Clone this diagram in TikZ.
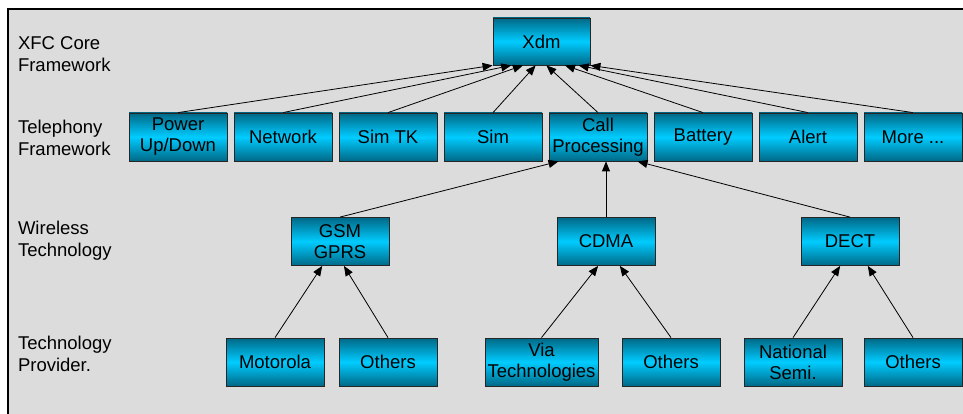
\documentclass[tikz,border=0pt]{standalone}
\usepackage{fontspec}
\setmainfont{Liberation Sans}
\usetikzlibrary{arrows.meta,calc}
\definecolor{boxdark}{RGB}{0,104,134}
\definecolor{boxlight}{RGB}{0,204,255}
\definecolor{panelgray}{RGB}{220,220,220}
\begin{document}
\begin{tikzpicture}[x=1pt,y=1pt,
           box_style/.style={rectangle,draw=black!85,line width=0.8pt,inner sep=0pt,
             minimum width=98pt,minimum height=48pt,align=center,
             top color=boxdark,bottom color=boxdark,middle color=boxlight,
             font=\fontsize{18.5}{21}\selectfont},
           wide_box_style/.style={box_style,minimum width=113pt},
           level_style/.style={anchor=west,align=left,font=\fontsize{18.5}{22}\selectfont},
           edge_style/.style={draw=black,line width=0.8pt,-{Triangle[length=10pt,width=8pt]}}]
            \useasboundingbox (0,0) rectangle (963,-414);
            \draw[fill=panelgray,draw=black,line width=1.3pt] (8,-9) rectangle (975,-430);
            % levels
            \node[level_style] (l1) at (14.5, -54)  {XFC Core\\Framework};
            \node[level_style] (l2) at (14.5, -138) {Telephony\\Framework};
            \node[level_style] (l3) at (14.5, -241) {Wireless\\Technology};
            \node[level_style] (l4) at (14.5, -354) {Technology\\Provider.};
            % core
            \node[box_style,minimum width=97pt,minimum height=47pt] (xdm) at (541.5, -41.5) {Xdm};
            % telephony
            \node[box_style] (t1) at (178, -137) {Power\\Up/Down};
            \node[box_style] (t2) at (283, -137) {Network};
            \node[box_style] (t3) at (388, -137) {Sim TK};
            \node[box_style] (t4) at (493, -137) {Sim};
            \node[box_style] (t5) at (598, -137) {Call\\Processing};
            \node[box_style] (t6) at (703, -137) {Battery};
            \node[box_style] (t7) at (808, -137) {Alert};
            \node[box_style] (t8) at (913, -137) {More ...};
            % wireless
            \node[box_style] (w1) at (340, -241.5) {GSM\\GPRS};
            \node[box_style] (w2) at (606, -241.5) {CDMA};
            \node[box_style] (w3) at (850, -241.5) {DECT};
            % providers
            \node[box_style] (p1) at (275, -362)   {Motorola};
            \node[box_style] (p2) at (388, -362)   {Others};
            \node[wide_box_style] (p3) at (541.5, -362) {Via\\Technologies};
            \node[box_style] (p4) at (671, -362)   {Others};
            \node[box_style] (p5) at (793, -362)   {National\\Semi.};
            \node[box_style] (p6) at (913, -362)   {Others};
            % telephony to core
            \draw[edge_style]  (t1.north) -- ($(xdm.south west)!0.00!(xdm.south east)$);
            \draw[edge_style]  (t2.north) -- ($(xdm.south west)!0.19!(xdm.south east)$);
            \draw[edge_style]  (t3.north) -- ($(xdm.south west)!0.31!(xdm.south east)$);
            \draw[edge_style]  (t4.north) -- ($(xdm.south west)!0.44!(xdm.south east)$);
            \draw[edge_style]  (t5.north) -- ($(xdm.south west)!0.55!(xdm.south east)$);
            \draw[edge_style]  (t6.north) -- ($(xdm.south west)!0.74!(xdm.south east)$);
            \draw[edge_style]  (t7.north) -- ($(xdm.south west)!0.88!(xdm.south east)$);
            \draw[edge_style]  (t8.north) -- ($(xdm.south west)!1.00!(xdm.south east)$);
            % wireless to telephony
            \draw[edge_style]  (w1.north) -- ($(t5.south west)!0.10!(t5.south east)$);
            \draw[edge_style]  (w2.north) -- (w2.north |- t5.south);
            \draw[edge_style]  (w3.north) -- ($(t5.south west)!0.90!(t5.south east)$);
            % providers to wireless
            \draw[edge_style]  (p1.north) -- ($(w1.south west)!0.32!(w1.south east)$);
            \draw[edge_style]  (p2.north) -- ($(w1.south west)!0.54!(w1.south east)$);
            \draw[edge_style]  (p3.north) -- ($(w2.south west)!0.42!(w2.south east)$);
            \draw[edge_style]  (p4.north) -- ($(w2.south west)!0.64!(w2.south east)$);
            \draw[edge_style]  (p5.north) -- ($(w3.south west)!0.40!(w3.south east)$);
            \draw[edge_style]  (p6.north) -- ($(w3.south west)!0.68!(w3.south east)$);
        \end{tikzpicture}
\end{document}
